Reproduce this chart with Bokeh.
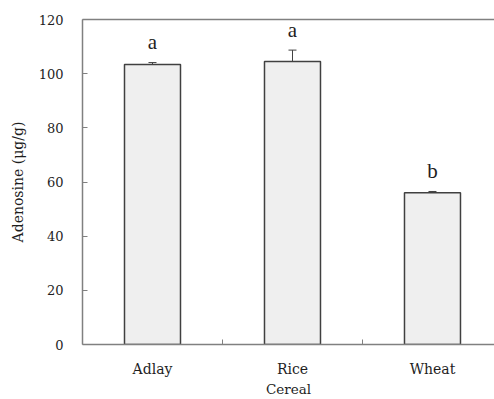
from bokeh.plotting import figure
from bokeh.models import (Range1d, FixedTicker, LinearAxis, Whisker, ColumnDataSource,
                          TeeHead)
from bokeh.core.properties import value
from bokeh.embed import file_html
from bokeh.resources import INLINE

categories = ["Adlay", "Rice", "Wheat"]
means = [103.4, 104.5, 56.0]
errors = [0.7, 4.2, 0.5]
letters = ["a", "a", "b"]
y_ticks = [0, 20, 40, 60, 80, 100, 120]

LETTER_FONT = "Liberation Serif"
AXIS_FONT = "DejaVu Serif"
AXIS_COLOR = "#808080"
EDGE_COLOR = "#404040"
TEXT_COLOR = "#1e1e1e"

xs = [i + 0.5 for i in range(len(categories))]
src = ColumnDataSource(dict(
    x=xs, top=means,
    lower=[m - e for m, e in zip(means, errors)],
    upper=[m + e for m, e in zip(means, errors)],
    ly=[m + e + 7.5 for m, e in zip(means, errors)],
    letter=letters,
))

p = figure(width=494, height=399, output_backend="svg", toolbar_location=None,
           x_range=Range1d(0, 2.943), y_range=Range1d(0, 120),
           min_border_left=82, min_border_right=0, min_border_top=19,
           min_border_bottom=54, x_axis_location=None, y_axis_location=None)
p.grid.visible = False
p.outline_line_color = None


def style_axis(ax, tick_size, label_size):
    ax.axis_line_color = AXIS_COLOR
    ax.axis_line_width = 1.5
    ax.major_label_text_font = AXIS_FONT
    ax.major_label_text_font_size = tick_size
    ax.major_label_text_color = TEXT_COLOR
    ax.major_label_text_line_height = 1.0
    ax.axis_label_text_font = AXIS_FONT
    ax.axis_label_text_font_size = label_size
    ax.axis_label_text_font_style = "normal"
    ax.axis_label_text_color = TEXT_COLOR
    ax.axis_label_text_line_height = 1.0


# y axis
yax = LinearAxis(ticker=FixedTicker(ticks=y_ticks))
yax.axis_label = "Adenosine (μg/g)"
style_axis(yax, "13px", "14px")
yax.major_tick_in = 5
yax.major_tick_out = 0
yax.major_tick_line_color = AXIS_COLOR
yax.minor_tick_line_color = None
yax.major_label_standoff = 19
yax.axis_label_standoff = 10
p.add_layout(yax, "left")

# x axis
xax = LinearAxis(ticker=FixedTicker(ticks=xs, minor_ticks=[1, 2]))
xax.major_label_overrides = {x: c for x, c in zip(xs, categories)}
xax.axis_label = "Cereal"
style_axis(xax, "14px", "13.5px")
xax.major_tick_line_color = None
xax.minor_tick_line_color = AXIS_COLOR
xax.minor_tick_in = 5
xax.minor_tick_out = 0
xax.major_label_standoff = 10
xax.axis_label_standoff = 1
p.add_layout(xax, "below")

# top frame line
tax = LinearAxis(ticker=FixedTicker(ticks=[]))
tax.axis_line_color = AXIS_COLOR
tax.axis_line_width = 1.5
tax.major_tick_line_color = None
tax.minor_tick_line_color = None
tax.major_label_text_font_size = "0px"
tax.major_label_standoff = 0
p.add_layout(tax, "above")

p.vbar(x="x", top="top", width=0.4, source=src, fill_color="#efefef",
       line_color=EDGE_COLOR, line_width=1.5)

p.add_layout(Whisker(source=src, base="x", lower="lower", upper="upper",
                     line_color=EDGE_COLOR, line_width=1,
                     upper_head=TeeHead(size=8, line_color=EDGE_COLOR, line_width=1),
                     lower_head=TeeHead(size=8, line_color=EDGE_COLOR, line_width=1)))

p.text(x="x", y="ly", text="letter", source=src, text_align="center",
       text_baseline="alphabetic", text_font=value(LETTER_FONT), text_font_size="21px",
       text_color=TEXT_COLOR)

open("out.html", "w").write(file_html(p, INLINE))
